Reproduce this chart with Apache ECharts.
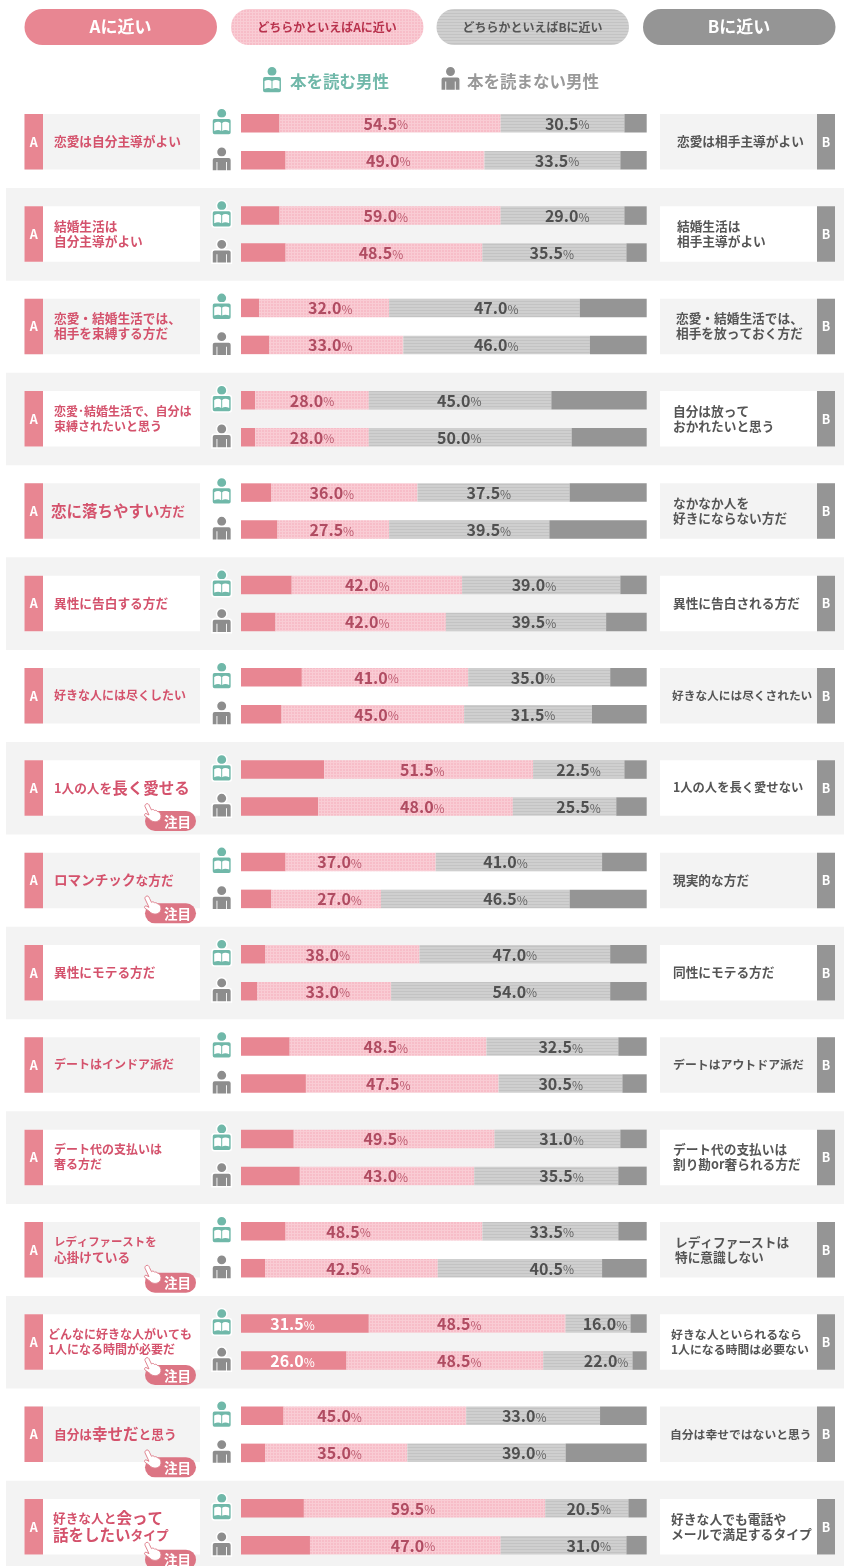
<!DOCTYPE html>
<html lang="ja">
<head>
<meta charset="utf-8">
<title>本を読む男性・読まない男性</title>
<style>
  html, body { margin: 0; padding: 0; background: #fff; }
  #chart { width: 844px; height: 1566px; }
</style>
</head>
<body>
<div id="chart"></div>
<script src="https://cdn.jsdelivr.net/npm/echarts@6/dist/echarts.min.js"></script>
<script>
const seriesNames = ["Aに近い", "どちらかといえばAに近い", "どちらかといえばBに近い", "Bに近い"];
const groupNames = ["本を読む男性", "本を読まない男性"];

// 本を読む男性
const readerNearA = [9.5, 9.5, 4.5, 3.5, 7.5, 12.5, 15, 20.5, 11, 6, 12, 13, 11, 31.5, 10.5, 15.5];
const readerSlightA = [54.5, 54.5, 32, 28, 36, 42, 41, 51.5, 37, 38, 48.5, 49.5, 48.5, 48.5, 45, 59.5];
const readerSlightB = [30.5, 30.5, 47, 45, 37.5, 39, 35, 22.5, 41, 47, 32.5, 31, 33.5, 16, 33, 20.5];
const readerNearB = [5.5, 5.5, 16.5, 23.5, 19, 6.5, 9, 5.5, 11, 9, 7, 6.5, 7, 4, 11.5, 4.5];

// 本を読まない男性
const otherNearA = [11, 11, 7, 3.5, 9, 8.5, 10, 19, 7.5, 4, 16, 14.5, 6, 26, 6, 17];
const otherSlightA = [49, 48.5, 33, 28, 27.5, 42, 45, 48, 27, 33, 47.5, 43, 42.5, 48.5, 35, 47];
const otherSlightB = [33.5, 35.5, 46, 50, 39.5, 39.5, 31.5, 25.5, 46.5, 54, 30.5, 35.5, 40.5, 22, 39, 31];
const otherNearB = [6.5, 5, 14, 18.5, 24, 10, 13.5, 7.5, 19, 9, 6, 7, 11, 3.5, 20, 5];

// row 2 prints 59.0 / 29.0 on top of bars that are drawn like row 1
const printedOverride = { "1-0": [59, 29] };
// only the two large "Aに近い" bars carry a number
const printedNearA = { "13-0": 12.7, "13-1": 12.7 };

const leftTexts = [
  "{s|恋愛は自分主導がよい}",
  "{s|結婚生活は}\n{s|自分主導がよい}",
  "{s|恋愛・結婚生活では、}\n{s|相手を束縛する方だ}",
  "{n|恋愛･結婚生活で、自分は}\n{n|束縛されたいと思う}",
  "{e|恋に落ちやすい}{s|方だ}",
  "{s|異性に告白する方だ}",
  "{n|好きな人には尽くしたい}",
  "{s|1人の人を}{e|長く愛せる}",
  "{m|ロマンチック}{s|な方だ}",
  "{s|異性にモテる方だ}",
  "{n|デートはインドア派だ}",
  "{n|デート代の支払いは}\n{n|奢る方だ}",
  "{c|レディファーストを}\n{s|心掛けている}",
  "{n|どんなに好きな人がいても}\n{n|1人になる時間が必要だ}",
  "{s|自分は}{e|幸せだ}{s|と思う}",
  "{s|好きな人と}{e|会って}\n{e|話をしたい}{s|タイプ}"
];
const rightTexts = [
  "恋愛は相手主導がよい",
  "結婚生活は\n相手主導がよい",
  "恋愛・結婚生活では、\n相手を放っておく方だ",
  "自分は放って\nおかれたいと思う",
  "なかなか人を\n好きにならない方だ",
  "異性に告白される方だ",
  "好きな人には尽くされたい",
  "1人の人を長く愛せない",
  "現実的な方だ",
  "同性にモテる方だ",
  "デートはアウトドア派だ",
  "デート代の支払いは\n割り勘or奢られる方だ",
  "レディファーストは\n特に意識しない",
  "好きな人といられるなら\n1人になる時間は必要ない",
  "自分は幸せではないと思う",
  "好きな人でも電話や\nメールで満足するタイプ"
];
const attentionRows = [7, 8, 12, 13, 14, 15];

// layout: where the numbers sit on the 0-100 axis, [reader, other], and text starts
const slightACentres = [[35.7, 36.3], [35.7, 34.5], [22, 22], [17.5, 17.5], [22.4, 22.4], [31.1, 31.1], [33.4, 33.4], [44.7, 44.7],
  [24.3, 24.3], [21.4, 21.4], [35.7, 36.3], [35.7, 35.7], [26.5, 26.5], [53.8, 53.8], [24.3, 24.3], [42.4, 42.4]];
const slightBCentres = [[80.4, 77.9], [80.4, 76.6], [62.9, 62.9], [53.8, 53.8], [61.1, 61.1], [72.2, 72.2], [72, 72], [83.2, 83.2],
  [65.2, 65.2], [67.5, 67.5], [78.8, 78.8], [79, 79], [76.6, 76.6], [89.7, 90], [69.8, 69.8], [85.7, 85.7]];
const leftTextX = [54, 54, 54, 54, 51, 54, 54, 54, 54, 54, 54, 54, 54, 48, 54, 53];
const rightTextX = [677, 677, 676, 673, 673, 673, 672, 673, 673, 673, 673, 673, 675, 671, 670, 671];
const rightTextSize = [12.7, 12.7, 12.7, 12.7, 12.7, 12.7, 11.7, 12.3, 12.7, 12.7, 11.9, 12.7, 12.7, 11.9, 11.8, 12.8];

const FONT = '"Noto Sans CJK JP", "Noto Sans", sans-serif';
const PINK = "#e88692";
const GREY = "#959595";
const TEAL = "#70b8a9";
const PERSON = "#8d8d8d";
const rowTop = (k) => 114 + 92.33 * k;
const barLeft = 241;
const barWidth = 405.7;
const pxPerUnit = barWidth / 100;

// graphic has no plain svg path type, so the icon outlines get registered
echarts.graphic.registerShape("bookShape", echarts.graphic.extendPath(
  "M-7.5 9.5 C-5 8 -2 8 -0.5 9.5 L-0.5 17.5 C-2 16.3 -5 16.3 -7.5 17.5 Z M7.5 9.5 C5 8 2 8 0.5 9.5 L0.5 17.5 C2 16.3 5 16.3 7.5 17.5 Z"));
echarts.graphic.registerShape("bodyShape", echarts.graphic.extendPath(
  "M-9.7 19 L-9.7 8 Q-9.7 5.3 -7 5.3 L7 5.3 Q9.7 5.3 9.7 8 L9.7 19 Z"));
echarts.graphic.registerShape("handShape", echarts.graphic.extendPath(
  "M3 1 C4.5 0 6 1 6.5 3 L8.5 7 C9.5 6 11 6.5 11.5 7.5 C12.5 7 14 7.5 14.5 8.5 C15.5 8.5 17 9.5 17.5 11 C18.5 13 18 16 16 17.5 C13 19.5 9 19 7 16.5 L2 13 C1 12 1.5 10.5 3 10.5 L6 12 L2 3.5 C1.7 2.5 2.2 1.5 3 1 Z"));

function makePattern(draw) {
  const c = document.createElement("canvas");
  c.width = 3;
  c.height = 3;
  draw(c.getContext("2d"));
  return { image: c, repeat: "repeat" };
}
const pinkDots = makePattern((g) => {
  g.fillStyle = "#f7bdc8";
  g.fillRect(0, 0, 3, 3);
  g.fillStyle = "#f9ccd4";
  g.fillRect(0, 0, 3, 1);
  g.fillRect(0, 0, 1, 3);
});
const greyLines = makePattern((g) => {
  g.fillStyle = "#cfcfcf";
  g.fillRect(0, 0, 3, 3);
  g.fillStyle = "#c3c3c3";
  g.fillRect(0, 1, 3, 1);
});

const grid = [];
const xAxis = [];
const yAxis = [];
const series = [];

function numberLabel(value, centre, segCentre, kind) {
  return {
    show: true,
    position: "inside",
    offset: [(centre - segCentre) * pxPerUnit, 0.5],
    formatter: () => "{" + kind + "|" + value.toFixed(1) + "}{" + kind + "p|%}",
    rich: {
      a: { fontFamily: FONT, fontSize: 16, fontWeight: "bold", color: "#fff" },
      ap: { fontFamily: FONT, fontSize: 12, fontWeight: "normal", color: "#fff", padding: [2, 0, 0, 0] },
      p: { fontFamily: FONT, fontSize: 16, fontWeight: "bold", color: "#b04c62" },
      pp: { fontFamily: FONT, fontSize: 12, fontWeight: "normal", color: "#bd5e72", padding: [2, 0, 0, 0] },
      g: { fontFamily: FONT, fontSize: 16, fontWeight: "bold", color: "#505050" },
      gp: { fontFamily: FONT, fontSize: 12, fontWeight: "normal", color: "#666", padding: [2, 0, 0, 0] }
    }
  };
}

leftTexts.forEach((_, k) => {
  grid.push({ left: barLeft, width: barWidth, top: rowTop(k) - 9.25, height: 74 });
  xAxis.push({ gridIndex: k, type: "value", min: 0, max: 100, show: false });
  yAxis.push({ gridIndex: k, type: "category", inverse: true, show: false, data: groupNames });

  const rows = [
    [readerNearA[k], readerSlightA[k], readerSlightB[k], readerNearB[k]],
    [otherNearA[k], otherSlightA[k], otherSlightB[k], otherNearB[k]]
  ];
  const data = [[], [], [], []];
  rows.forEach((r, g) => {
    const over = printedOverride[k + "-" + g];
    const shownA = over ? over[0] : r[1];
    const shownB = over ? over[1] : r[2];
    const nearAPos = printedNearA[k + "-" + g];
    data[0].push(nearAPos === undefined ? r[0] : { value: r[0], label: numberLabel(r[0], nearAPos, r[0] / 2, "a") });
    data[1].push({ value: r[1], label: numberLabel(shownA, slightACentres[k][g], r[0] + r[1] / 2, "p") });
    data[2].push({ value: r[2], label: numberLabel(shownB, slightBCentres[k][g], r[0] + r[1] + r[2] / 2, "g") });
    data[3].push(r[3]);
  });
  const colors = [PINK, pinkDots, greyLines, GREY];
  seriesNames.forEach((name, s) => {
    series.push({
      name,
      type: "bar",
      stack: "row" + k,
      xAxisIndex: k,
      yAxisIndex: k,
      barWidth: 18.5,
      silent: true,
      itemStyle: { color: colors[s] },
      data: data[s]
    });
  });
});

// icons are groups so the legend and the rows can share them
function readerIcon(cx, y) {
  return {
    type: "group", x: cx, y, silent: true,
    children: [
      { type: "circle", z: 5, shape: { cx: 0, cy: 0, r: 5.2 }, style: { fill: TEAL, stroke: "#fff", lineWidth: 1.5 } },
      { type: "rect", z: 5, shape: { x: -9.7, y: 4.8, width: 19.4, height: 16.8, r: 2.5 }, style: { fill: TEAL, stroke: "#fff", lineWidth: 1.5 } },
      { type: "bookShape", z: 6, style: { fill: "#fff" } }
    ]
  };
}
function otherIcon(cx, y) {
  return {
    type: "group", x: cx, y, silent: true,
    children: [
      { type: "circle", z: 5, shape: { cx: 0, cy: 0, r: 5.2 }, style: { fill: PERSON, stroke: "#fff", lineWidth: 1.5 } },
      { type: "bodyShape", z: 5, style: { fill: PERSON, stroke: "#fff", lineWidth: 1.5 } },
      { type: "rect", z: 6, shape: { x: -5.2, y: 10, width: 0.9, height: 9 }, style: { fill: "#fff" } },
      { type: "rect", z: 6, shape: { x: 4.3, y: 10, width: 0.9, height: 9 }, style: { fill: "#fff" } }
    ]
  };
}
function attentionBadge(y) {
  return {
    type: "group", x: 0, y, silent: true,
    children: [
      { type: "rect", z: 7, shape: { x: 145, y: 0, width: 51, height: 20, r: 10 }, style: { fill: "#dc7584" } },
      { type: "text", z: 8, x: 177.5, y: 10.5, style: { text: "注目", fill: "#fff", fontFamily: FONT, fontSize: 13.5, fontWeight: "bold", align: "center", verticalAlign: "middle" } },
      { type: "handShape", z: 8, x: 143, y: -8, style: { fill: "#fff", stroke: "#e08491", lineWidth: 1 } }
    ]
  };
}

const graphic = [];

// header pills
[
  { x: 24.5, label: "Aに近い", fill: PINK, color: "#fff", size: 17 },
  { x: 231, label: "どちらかといえばAに近い", fill: pinkDots, color: "#b8324d", size: 12 },
  { x: 436.5, label: "どちらかといえばBに近い", fill: greyLines, color: "#555", size: 12 },
  { x: 643, label: "Bに近い", fill: GREY, color: "#fff", size: 17 }
].forEach((p) => {
  graphic.push({ type: "rect", silent: true, shape: { x: p.x, y: 9, width: 192.5, height: 36, r: 18 }, style: { fill: p.fill } });
  graphic.push({
    type: "text", silent: true, x: p.x + 96, y: 27,
    style: { text: p.label, fill: p.color, fontFamily: FONT, fontSize: p.size, fontWeight: "bold", align: "center", verticalAlign: "middle" }
  });
});

// legend
graphic.push(readerIcon(272, 71.5));
graphic.push({ type: "text", silent: true, x: 290, y: 81.5, style: { text: groupNames[0], fill: TEAL, fontFamily: FONT, fontSize: 16.5, fontWeight: "bold", verticalAlign: "middle" } });
graphic.push(otherIcon(450.5, 71.5));
graphic.push({ type: "text", silent: true, x: 467, y: 81.5, style: { text: groupNames[1], fill: "#999", fontFamily: FONT, fontSize: 16.5, fontWeight: "bold", verticalAlign: "middle" } });

leftTexts.forEach((txt, k) => {
  const y = rowTop(k);
  const banded = k % 2 === 1;
  const panel = banded ? "#fff" : "#f3f3f3";
  if (banded) {
    graphic.push({ type: "rect", silent: true, z: 0, shape: { x: 6, y: y - 18.3, width: 838, height: 92.6 }, style: { fill: "#f3f3f3" } });
  }
  graphic.push({ type: "rect", silent: true, z: 1, shape: { x: 24.5, y, width: 175.5, height: 55.5 }, style: { fill: panel } });
  graphic.push({ type: "rect", silent: true, z: 1, shape: { x: 24.5, y, width: 18.5, height: 55.5 }, style: { fill: PINK } });
  graphic.push({ type: "text", silent: true, z: 2, x: 33.7, y: y + 28, style: { text: "A", fill: "#fff", fontFamily: FONT, fontSize: 12.5, fontWeight: "bold", align: "center", verticalAlign: "middle" } });
  graphic.push({
    type: "text", silent: true, z: 2, x: leftTextX[k], y: y + 27.5,
    style: {
      text: txt,
      verticalAlign: "middle",
      rich: {
        s: { fontFamily: FONT, fontSize: 12.7, fontWeight: "bold", fill: "#d4526c", lineHeight: 15 },
        n: { fontFamily: FONT, fontSize: 12, fontWeight: "bold", fill: "#d4526c", lineHeight: 15 },
        c: { fontFamily: FONT, fontSize: 11.4, fontWeight: "bold", fill: "#d4526c", lineHeight: 15 },
        m: { fontFamily: FONT, fontSize: 13.6, fontWeight: "bold", fill: "#d4526c", lineHeight: 17 },
        e: { fontFamily: FONT, fontSize: 15.5, fontWeight: "bold", fill: "#d4526c", lineHeight: 17 }
      }
    }
  });

  graphic.push({ type: "rect", silent: true, z: 1, shape: { x: 660, y, width: 175, height: 55.5 }, style: { fill: panel } });
  graphic.push({ type: "rect", silent: true, z: 1, shape: { x: 817, y, width: 18, height: 55.5 }, style: { fill: GREY } });
  graphic.push({ type: "text", silent: true, z: 2, x: 826, y: y + 28, style: { text: "B", fill: "#fff", fontFamily: FONT, fontSize: 12.5, fontWeight: "bold", align: "center", verticalAlign: "middle" } });
  graphic.push({
    type: "text", silent: true, z: 2, x: rightTextX[k], y: y + 27.5,
    style: { text: rightTexts[k], fill: "#555", fontFamily: FONT, fontSize: rightTextSize[k], fontWeight: "bold", lineHeight: 15, verticalAlign: "middle" }
  });

  graphic.push(readerIcon(221.7, y - 0.6));
  graphic.push(otherIcon(221.7, y + 38));
});

attentionRows.forEach((k) => graphic.push(attentionBadge(rowTop(k) + 50.7)));

const chart = echarts.init(document.getElementById("chart"), null, { renderer: "canvas" });
chart.setOption({
  animation: false,
  backgroundColor: "#fff",
  textStyle: { fontFamily: FONT },
  tooltip: { show: false },
  grid,
  xAxis,
  yAxis,
  series,
  graphic: { elements: graphic }
});
</script>
</body>
</html>
